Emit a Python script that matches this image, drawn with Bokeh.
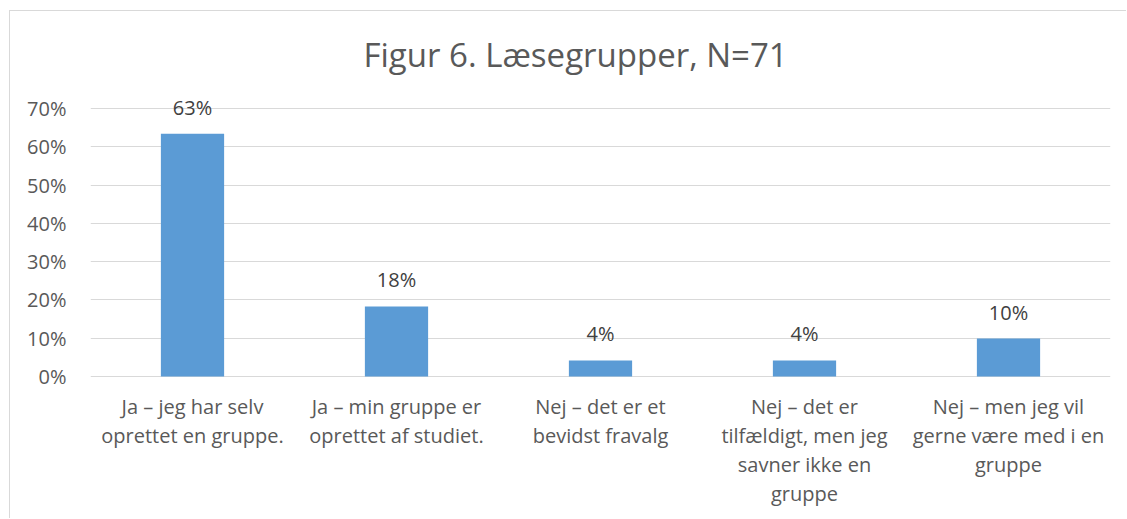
from bokeh.plotting import figure
from bokeh.models import FactorRange, Range1d, NumeralTickFormatter, ColumnDataSource, LabelSet, FixedTicker
from bokeh.core.properties import value
from bokeh.embed import file_html
from bokeh.resources import INLINE

categories = [
    "Ja – jeg har selv\noprettet en gruppe.",
    "Ja – min gruppe er\noprettet af studiet.",
    "Nej – det er et\nbevidst fravalg",
    "Nej – det er\ntilfældigt, men jeg\nsavner ikke en\ngruppe",
    "Nej – men jeg vil\ngerne være med i en\ngruppe",
]
values = [0.634, 0.183, 0.042, 0.042, 0.099]
value_labels = ["63%", "18%", "4%", "4%", "10%"]
y_ticks = [0.0, 0.1, 0.2, 0.3, 0.4, 0.5, 0.6, 0.7]
title_text = "Figur 6. Læsegrupper, N=71"

FONT = "Open Sans"
GREY = "#595959"

# layout (pixels); canvas sits inside a 1px chart-area border
W, H = 1117, 508
FRAME_LEFT, FRAME_W = 80, 1020
FRAME_TOP, FRAME_H = 69, 429
PX_PER_UNIT = 268 / 0.7          # 0%..70% spans 268 px
ABOVE_PX = 28                    # room above 70% line for the "63%" label
y_end = 0.7 + ABOVE_PX / PX_PER_UNIT
y_start = y_end - FRAME_H / PX_PER_UNIT

src = ColumnDataSource(dict(cat=categories, val=values, lab=value_labels))

p = figure(
    x_range=FactorRange(factors=categories, range_padding=0),
    y_range=Range1d(y_start, y_end),
    width=W, height=H,
    output_backend="svg", toolbar_location=None,
    min_border_left=FRAME_LEFT, min_border_right=W - FRAME_LEFT - FRAME_W,
    min_border_top=FRAME_TOP, min_border_bottom=H - FRAME_TOP - FRAME_H,
    title=title_text,
    styles={"margin-left": "9px", "margin-top": "10px",
            "border-left": "1px solid #d9d9d9", "border-top": "1px solid #d9d9d9"},
)
p.title.text_font = FONT
p.title.text_font_size = "33px"
p.title.text_font_style = "normal"
p.title.text_color = GREY
p.title.align = "left"
p.title.offset = 273
p.title.standoff = 7

p.vbar(x="cat", top="val", width=0.31, source=src, color="#5B9BD5", line_color=None)

labels = LabelSet(x="cat", y="val", text="lab", source=src, y_offset=19,
                  text_align="center", text_baseline="alphabetic",
                  text_font=value(FONT), text_font_size=value("20px"), text_color="#404040")
p.add_layout(labels)

# category labels, one LabelSet per text line
split = [c.split("\n") for c in categories]
n_lines = max(len(s) for s in split)
for i in range(n_lines):
    cats = [c for c, s in zip(categories, split) if len(s) > i]
    txt = [s[i] for s in split if len(s) > i]
    s_i = ColumnDataSource(dict(cat=cats, y=[0.0] * len(cats), t=txt))
    p.add_layout(LabelSet(x="cat", y="y", text="t", source=s_i, y_offset=-(37 + 29.3 * i),
                          text_align="center", text_baseline="alphabetic",
                          text_font=value(FONT), text_font_size=value("20px"), text_color=GREY))

p.yaxis.ticker = FixedTicker(ticks=y_ticks)
p.yaxis.formatter = NumeralTickFormatter(format="0%")
p.yaxis.axis_line_color = None
p.yaxis.major_tick_line_color = None
p.yaxis.minor_tick_line_color = None
p.yaxis.major_label_standoff = 18
p.yaxis.major_label_text_font = FONT
p.yaxis.major_label_text_font_size = "20px"
p.yaxis.major_label_text_color = GREY

p.xaxis.visible = False

p.xgrid.grid_line_color = None
p.ygrid.grid_line_color = "#d9d9d9"
p.ygrid.grid_line_width = 1
p.outline_line_color = None

open("out.html", "w").write(file_html(p, INLINE))
